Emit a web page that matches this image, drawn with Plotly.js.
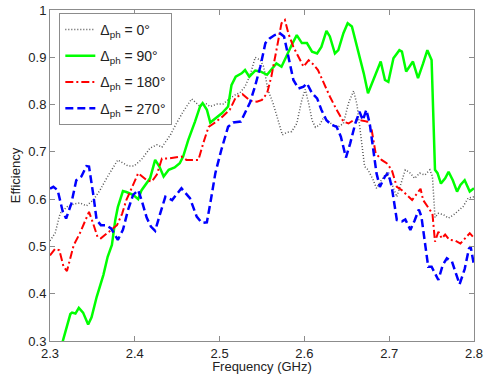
<!DOCTYPE html>
<html>
<head>
<meta charset="utf-8">
<script src="https://cdn.plot.ly/plotly-3.0.1.min.js"></script>
<style>html,body{margin:0;padding:0;background:#fff;}#chart{width:484px;height:374px;}</style>
</head>
<body>
<div id="chart"></div>
<script>
// Series 0 deg (gray dotted)
var freq0 = [2.300,2.306,2.312,2.320,2.329,2.335,2.343,2.351,2.359,2.368,2.380,2.392,2.399,2.408,2.418,2.426,2.432,2.442,2.449,2.457,2.467,2.473,2.477,2.483,2.489,2.497,2.504,2.512,2.518,2.524,2.530,2.536,2.542,2.548,2.552,2.557,2.563,2.569,2.574,2.579,2.585,2.591,2.597,2.601,2.605,2.609,2.613,2.618,2.623,2.628,2.634,2.640,2.646,2.652,2.658,2.662,2.667,2.671,2.675,2.681,2.685,2.691,2.697,2.703,2.709,2.715,2.719,2.725,2.730,2.736,2.742,2.748,2.751,2.754,2.758,2.764,2.770,2.776,2.781,2.787,2.793,2.800];
var eff0 = [0.512,0.528,0.570,0.584,0.590,0.592,0.586,0.598,0.619,0.648,0.683,0.670,0.670,0.684,0.708,0.715,0.710,0.736,0.760,0.785,0.812,0.803,0.796,0.803,0.796,0.801,0.801,0.813,0.820,0.825,0.838,0.862,0.900,0.894,0.880,0.831,0.803,0.767,0.736,0.741,0.743,0.760,0.810,0.832,0.803,0.767,0.752,0.757,0.774,0.764,0.757,0.753,0.760,0.803,0.829,0.800,0.730,0.669,0.662,0.641,0.623,0.641,0.655,0.633,0.605,0.641,0.662,0.655,0.644,0.655,0.651,0.662,0.648,0.561,0.570,0.567,0.560,0.567,0.574,0.584,0.602,0.605];

// Series 90 deg (green solid)
var freq90 = [2.312,2.324,2.326,2.330,2.334,2.339,2.345,2.349,2.355,2.363,2.368,2.373,2.377,2.380,2.386,2.390,2.398,2.404,2.408,2.418,2.424,2.429,2.434,2.440,2.447,2.453,2.457,2.463,2.471,2.477,2.480,2.485,2.489,2.495,2.503,2.510,2.514,2.519,2.526,2.530,2.535,2.542,2.548,2.556,2.561,2.567,2.573,2.579,2.585,2.591,2.597,2.603,2.609,2.615,2.620,2.626,2.630,2.636,2.640,2.646,2.651,2.656,2.661,2.666,2.670,2.675,2.683,2.690,2.695,2.699,2.705,2.712,2.715,2.720,2.728,2.734,2.740,2.745,2.750,2.754,2.757,2.761,2.766,2.770,2.775,2.780,2.784,2.789,2.795,2.800];
var eff90 = [0.28,0.357,0.36,0.358,0.37,0.36,0.335,0.35,0.393,0.44,0.478,0.503,0.556,0.583,0.617,0.615,0.609,0.600,0.619,0.644,0.683,0.669,0.648,0.662,0.667,0.676,0.690,0.725,0.764,0.796,0.803,0.789,0.762,0.771,0.782,0.796,0.841,0.859,0.866,0.873,0.859,0.872,0.870,0.863,0.873,0.887,0.880,0.905,0.926,0.947,0.930,0.930,0.912,0.908,0.922,0.956,0.944,0.908,0.915,0.951,0.972,0.965,0.930,0.895,0.866,0.824,0.859,0.891,0.852,0.848,0.898,0.915,0.912,0.870,0.891,0.856,0.887,0.915,0.894,0.662,0.655,0.633,0.644,0.658,0.640,0.616,0.630,0.640,0.616,0.623];

// Series 180 deg (red dash-dot)
var freq180 = [2.300,2.306,2.311,2.316,2.320,2.324,2.328,2.335,2.343,2.346,2.351,2.356,2.360,2.367,2.375,2.379,2.385,2.390,2.398,2.404,2.414,2.420,2.426,2.432,2.440,2.449,2.455,2.461,2.475,2.481,2.487,2.493,2.503,2.512,2.519,2.527,2.536,2.544,2.550,2.556,2.561,2.567,2.573,2.577,2.581,2.587,2.593,2.599,2.605,2.611,2.616,2.622,2.630,2.638,2.646,2.652,2.658,2.666,2.674,2.679,2.684,2.691,2.697,2.703,2.709,2.715,2.721,2.727,2.732,2.737,2.740,2.745,2.751,2.754,2.758,2.762,2.766,2.771,2.778,2.784,2.789,2.795,2.800];
var eff180 = [0.481,0.495,0.492,0.457,0.448,0.478,0.503,0.527,0.559,0.573,0.548,0.520,0.517,0.527,0.538,0.545,0.569,0.598,0.630,0.655,0.640,0.637,0.652,0.686,0.686,0.689,0.690,0.683,0.683,0.720,0.753,0.760,0.774,0.789,0.815,0.822,0.808,0.806,0.810,0.824,0.859,0.915,0.972,0.979,0.951,0.922,0.901,0.880,0.894,0.884,0.873,0.848,0.817,0.789,0.764,0.760,0.767,0.767,0.764,0.750,0.697,0.683,0.676,0.662,0.626,0.619,0.608,0.598,0.610,0.622,0.598,0.584,0.569,0.510,0.531,0.517,0.525,0.514,0.512,0.506,0.515,0.528,0.518];

// Series 270 deg (blue dashed)
var freq270 = [2.300,2.304,2.309,2.315,2.319,2.325,2.331,2.337,2.343,2.346,2.351,2.355,2.360,2.366,2.372,2.380,2.386,2.392,2.398,2.404,2.408,2.414,2.419,2.424,2.430,2.436,2.444,2.455,2.465,2.473,2.479,2.485,2.489,2.495,2.502,2.510,2.516,2.525,2.532,2.536,2.542,2.548,2.554,2.559,2.565,2.571,2.576,2.581,2.587,2.593,2.599,2.603,2.609,2.615,2.620,2.626,2.632,2.638,2.643,2.649,2.654,2.660,2.665,2.669,2.673,2.677,2.681,2.685,2.689,2.695,2.699,2.703,2.709,2.715,2.719,2.725,2.730,2.735,2.738,2.742,2.746,2.750,2.754,2.758,2.763,2.768,2.774,2.778,2.783,2.789,2.794,2.796,2.800];
var eff270 = [0.622,0.626,0.619,0.574,0.559,0.590,0.640,0.648,0.670,0.669,0.610,0.556,0.545,0.545,0.538,0.514,0.535,0.577,0.609,0.619,0.598,0.561,0.542,0.533,0.570,0.605,0.598,0.623,0.602,0.563,0.550,0.551,0.591,0.655,0.704,0.753,0.762,0.764,0.790,0.805,0.840,0.880,0.930,0.940,0.947,0.951,0.944,0.901,0.852,0.834,0.838,0.845,0.824,0.813,0.789,0.767,0.757,0.753,0.732,0.688,0.718,0.760,0.785,0.767,0.789,0.760,0.704,0.655,0.626,0.648,0.655,0.626,0.556,0.553,0.557,0.535,0.555,0.578,0.563,0.507,0.457,0.457,0.443,0.429,0.460,0.475,0.468,0.445,0.420,0.452,0.495,0.500,0.460];

var seriesNames = ['Δ<sub>ph</sub> = 0°','Δ<sub>ph</sub> = 90°','Δ<sub>ph</sub> = 180°','Δ<sub>ph</sub> = 270°'];
var xTicks = [2.3,2.4,2.5,2.6,2.7,2.8];
var yTicks = [0.3,0.4,0.5,0.6,0.7,0.8,0.9,1];

var FONT = 'Arial, "Liberation Sans", sans-serif';
var traces = [
  {x: freq0, y: eff0, name: seriesNames[0], legendgroup: 'g0', mode: 'lines', line: {color: '#555555', width: 1.5, dash: '1px,2px'}},
  {x: freq90, y: eff90, name: seriesNames[1], legendgroup: 'g1', mode: 'lines', line: {color: '#00ff00', width: 2.5}},
  {x: freq180, y: eff180, name: seriesNames[2], legendgroup: 'g2', mode: 'lines', line: {color: '#ff0000', width: 2, dash: '8px,3px,2px,3px'}},
  {x: freq270, y: eff270, name: seriesNames[3], legendgroup: 'g3', mode: 'lines', line: {color: '#0000ff', width: 2.5, dash: '8px,4px'}}
];
var axisCommon = {
  showgrid: false, zeroline: false, showline: true, linecolor: '#8c8c8c', linewidth: 1,
  mirror: 'ticks', ticks: 'inside', ticklen: 5, tickcolor: '#8c8c8c',
  tickfont: {family: FONT, size: 13, color: '#222'}
};
var layout = {
  width: 484, height: 374,
  margin: {l: 50, r: 10, t: 10, b: 33},
  paper_bgcolor: '#fff', plot_bgcolor: '#fff',
  font: {family: FONT, size: 13, color: '#222'},
  xaxis: Object.assign({}, axisCommon, {range: [2.3, 2.8], tickvals: xTicks, ticktext: xTicks.map(function(v){return v.toFixed(1);}),
    title: {text: 'Frequency (GHz)', font: {family: FONT, size: 13, color: '#222'}, standoff: 0}}),
  yaxis: Object.assign({}, axisCommon, {range: [0.3, 1], tickvals: yTicks, ticktext: yTicks.map(function(v){return v === 1 ? '1' : v.toFixed(1);}),
    title: {text: 'Efficiency', font: {family: FONT, size: 13, color: '#222'}, standoff: 4}}),
  showlegend: true,
  legend: {x: 0.022, y: 0.991, xanchor: 'left', yanchor: 'top', bgcolor: '#fff', bordercolor: '#8c8c8c', borderwidth: 1,
    font: {family: FONT, size: 14, color: '#222'}, itemwidth: 30, tracegroupgap: 5}
};
Plotly.newPlot('chart', traces, layout, {displayModeBar: false, staticPlot: true});
</script>
</body>
</html>
